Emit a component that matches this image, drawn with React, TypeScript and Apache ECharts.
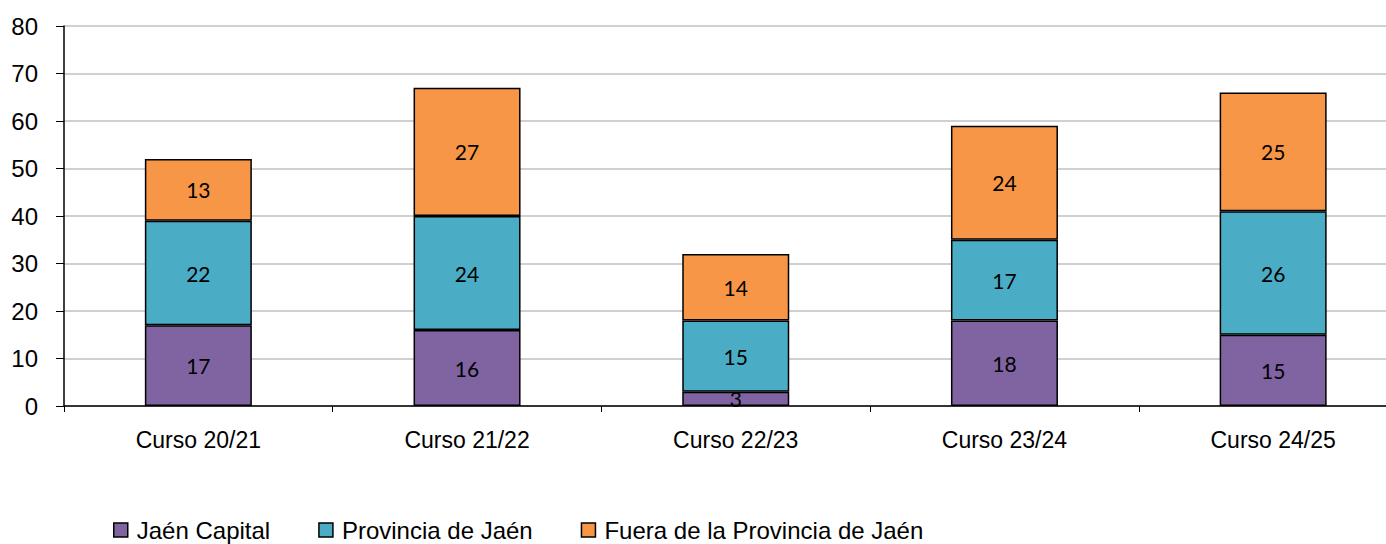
import React, { useEffect, useRef } from "react";
import * as echarts from "echarts";

const categories = ["Curso 20/21", "Curso 21/22", "Curso 22/23", "Curso 23/24", "Curso 24/25"];
const jaenCapital = [17, 16, 3, 18, 15];
const provincia = [22, 24, 15, 17, 26];
const fuera = [13, 27, 14, 24, 25];
const seriesNames = ["Jaén Capital", "Provincia de Jaén", "Fuera de la Provincia de Jaén"];
const colors = ["#8064A2", "#4BACC6", "#F79646"];

const NARROW = "'Liberation Sans Narrow', 'Arial Narrow', 'Liberation Sans', Arial, sans-serif";

export default function App() {
  const ref = useRef<HTMLDivElement>(null);
  useEffect(() => {
    if (!ref.current) return;
    const chart = echarts.init(ref.current, null, { renderer: "svg" });
    const mk = (name: string, data: number[], color: string) => ({
      name,
      type: "bar",
      stack: "total",
      data,
      barWidth: 107,
      itemStyle: { color, borderColor: "#000", borderWidth: 1.5 },
      label: {
        show: true,
        position: "inside",
        color: "#000",
        fontFamily: "Lato, 'Open Sans', sans-serif",
        fontSize: 21,
      },
    });
    chart.setOption({
      animation: false,
      grid: { left: 64, top: 26, width: 1343.5, height: 380, containLabel: false },
      legend: {
        data: seriesNames,
        left: 113,
        top: 518,
        padding: 0,
        itemWidth: 14,
        itemHeight: 14,
        itemGap: 48,
        icon: "rect",
        textStyle: { fontFamily: NARROW, fontSize: 24, color: "#000", padding: [0, 0, 0, 4] },
        itemStyle: { borderColor: "#000", borderWidth: 1.5 },
      },
      xAxis: {
        type: "category",
        data: categories,
        axisLine: { lineStyle: { color: "#000", width: 1.5 } },
        axisTick: { show: true, length: 6, lineStyle: { color: "#000", width: 1 } },
        axisLabel: { fontFamily: NARROW, fontSize: 23, color: "#000", margin: 22 },
      },
      yAxis: {
        type: "value",
        min: 0,
        max: 80,
        interval: 10,
        axisLine: { show: true, lineStyle: { color: "#000", width: 1.5 } },
        axisTick: { show: true, length: 8, lineStyle: { color: "#000", width: 1 } },
        axisLabel: { fontFamily: NARROW, fontSize: 24, color: "#000", margin: 26 },
        splitLine: { lineStyle: { color: "#c0c0c0", width: 1.5 } },
      },
      series: [
        mk(seriesNames[0], jaenCapital, colors[0]),
        mk(seriesNames[1], provincia, colors[1]),
        mk(seriesNames[2], fuera, colors[2]),
      ],
    });
    return () => chart.dispose();
  }, []);
  return (
    <div style={{ position: "absolute", left: 0, top: 0, width: 1386, height: 544, overflow: "hidden", background: "#fff" }}>
      <div ref={ref} style={{ width: 1420, height: 544 }} />
    </div>
  );
}
